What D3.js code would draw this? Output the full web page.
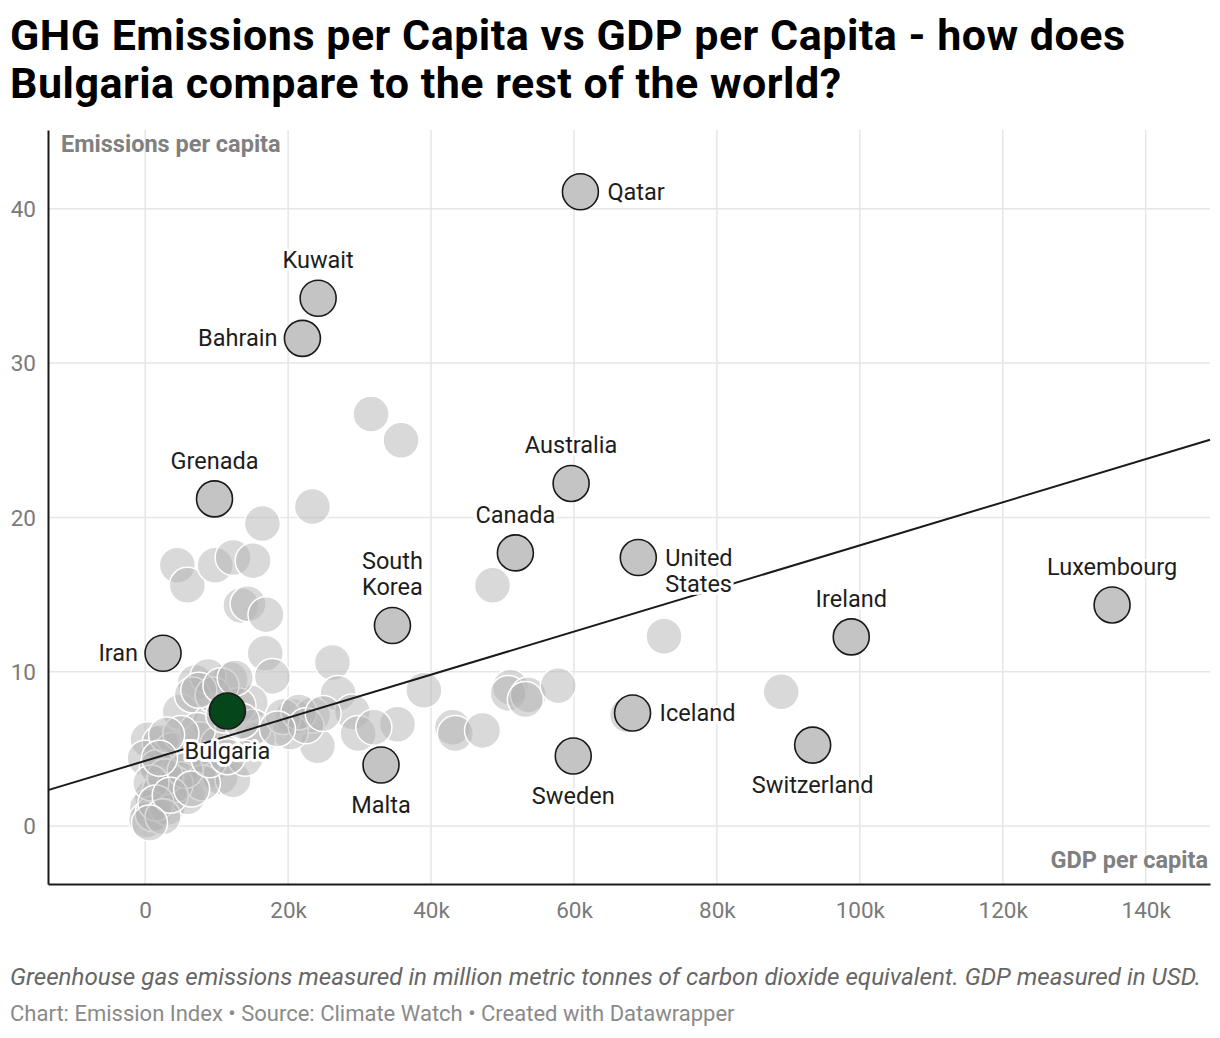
<!DOCTYPE html>
<html>
<head>
<meta charset="utf-8">
<script src="https://cdn.jsdelivr.net/npm/d3@7"></script>
<style>
  body { margin: 0; background: #fff; font-family: Roboto, sans-serif; }
  svg text { font-family: Roboto, sans-serif; }
</style>
</head>
<body>
<svg id="canvas" width="1220" height="1038"></svg>
<script>
// GDP per capita (USD) and emissions per capita
const labeledNames = ['Qatar', 'Kuwait', 'Bahrain', 'Grenada', 'Australia', 'Canada', 'United States',
  'South Korea', 'Iran', 'Bulgaria', 'Malta', 'Sweden', 'Iceland', 'Switzerland', 'Ireland', 'Luxembourg']
const labeledGdp = [60900, 24200, 22000, 9700, 59600, 51800, 69000,
  34600, 2500, 11500, 33000, 59900, 68200, 93400, 98800, 135300]
const labeledEm = [41.1, 34.2, 31.6, 21.2, 22.2, 17.7, 17.4,
  13.0, 11.2, 7.46, 3.96, 4.54, 7.33, 5.25, 12.26, 14.33]

// the other countries, [gdp in thousands, emissions]
const otherPoints = [
  [16.4,19.6],[23.4,20.7],[4.5,16.9],[5.9,15.6],[9.8,16.9],[12.3,17.4],[15.1,17.2],[13.4,14.3],
  [14.4,14.4],[16.9,13.7],[16.8,11.2],[17.8,9.7],[26.2,10.6],[27.0,8.6],[29.0,7.4],[29.8,6.0],
  [24.1,5.2],[20.7,7.1],[23.4,7.2],[20.3,6.1],[35.3,6.6],[39.0,8.8],[43.0,6.4],[43.4,6.0],
  [47.2,6.2],[51.1,9.0],[50.8,8.6],[53.6,8.5],[53.2,8.2],[57.8,9.1],[67.5,7.2],[72.6,12.3],
  [89.0,8.7],[48.6,15.6],[31.6,26.7],[35.8,25.0],[14.7,8.0],[15.7,5.6],[7.0,9.3],[11.9,9.5],
  [8.8,9.7],[4.9,7.4],[6.6,8.5],[13.0,7.8],[9.1,6.7],[15.1,6.4],[19.3,7.1],[0.4,5.6],
  [2.1,5.4],[3.8,4.9],[0.0,4.4],[1.7,3.8],[6.6,4.5],[8.7,3.6],[10.5,3.2],[12.3,3.0],
  [4.9,3.0],[1.0,1.9],[2.1,2.3],[0.3,1.2],[0.2,0.4],[1.1,0.8],[3.1,1.2],[5.9,1.9],
  [8.0,2.8],[4.2,2.7],[2.8,3.2],[5.6,3.6],[7.7,5.6],[10.2,5.3],[14.0,4.4],[7.3,6.2],
  [5.0,6.0],[3.0,5.9],[9.5,8.5],[7.5,8.8],[10.6,9.1],[12.6,9.6],[11.0,7.2],[13.5,6.8],
  [21.5,7.4],[22.5,6.5],[18.5,6.3],[0.8,2.8],[1.5,1.5],[2.5,0.6],[3.5,2.0],[6.5,2.4],
  [9.0,4.3],[11.5,4.5],[24.9,7.3],[32.0,6.4],[0.6,0.2],[2.0,4.4]
]

// trend line end points
const trendGdp = [-13600, 149000]
const trendEm = [2.33, 25.03]

const xTicks = [0, 20000, 40000, 60000, 80000, 100000, 120000, 140000]
const yTicks = [0, 10, 20, 30, 40]

// where each label goes relative to its dot
const labelSide = {
  'Qatar': 'right', 'Kuwait': 'above', 'Bahrain': 'left', 'Grenada': 'above', 'Australia': 'above',
  'Canada': 'above', 'United States': 'right', 'South Korea': 'above', 'Iran': 'left',
  'Bulgaria': 'below', 'Malta': 'below', 'Sweden': 'below', 'Iceland': 'right',
  'Switzerland': 'below', 'Ireland': 'above', 'Luxembourg': 'above'
}
const twoLine = { 'United States': ['United', 'States'], 'South Korea': ['South', 'Korea'] }

const svg = d3.select('#canvas')
const x = d3.scaleLinear().domain([-13600, 149000]).range([48, 1210])
const y = d3.scaleLinear().domain([-3.75, 45.1]).range([884, 130])
const r = 18

// title
const title = svg.append('text').attr('x', 10).attr('font-weight', 700)
  .attr('font-size', 43).attr('letter-spacing', 0.5).attr('fill', '#000')
title.append('tspan').attr('x', 10).attr('y', 50)
  .text('GHG Emissions per Capita vs GDP per Capita - how does')
title.append('tspan').attr('x', 10).attr('y', 98)
  .text('Bulgaria compare to the rest of the world?')

// grid
svg.append('g').selectAll('line').data(xTicks).enter().append('line')
  .attr('x1', d => x(d)).attr('x2', d => x(d))
  .attr('y1', 130).attr('y2', 884)
  .attr('stroke', '#e6e6e6').attr('stroke-width', 1.5)
svg.append('g').selectAll('line').data(yTicks).enter().append('line')
  .attr('x1', 48).attr('x2', 1210)
  .attr('y1', d => y(d)).attr('y2', d => y(d))
  .attr('stroke', '#e6e6e6').attr('stroke-width', 1.5)

// axes
const xAxis = svg.append('g').attr('transform', 'translate(0,884)')
  .call(d3.axisBottom(x).tickValues(xTicks).tickSize(0).tickPadding(18)
    .tickFormat(d => d === 0 ? '0' : (d / 1000) + 'k'))
const yAxis = svg.append('g').attr('transform', 'translate(48,0)')
  .call(d3.axisLeft(y).tickValues(yTicks).tickSize(0).tickPadding(12))
;[xAxis, yAxis].forEach(g => {
  g.select('.domain').attr('stroke', '#1a1a1a').attr('stroke-width', 2)
  g.selectAll('text').attr('font-size', 22.5).attr('fill', '#7a7a7a')
    .attr('font-family', 'Roboto, sans-serif')
})
yAxis.selectAll('text').attr('dy', '0.35em')

svg.append('text').attr('x', 61).attr('y', 152).attr('font-size', 23.5)
  .attr('font-weight', 700).attr('fill', '#808080').text('Emissions per capita')
svg.append('text').attr('x', 1208).attr('y', 868).attr('font-size', 23.5)
  .attr('text-anchor', 'end').attr('font-weight', 700).attr('fill', '#808080')
  .text('GDP per capita')

// other countries
svg.append('g').selectAll('circle').data(otherPoints).enter().append('circle')
  .attr('cx', d => x(d[0] * 1000)).attr('cy', d => y(d[1])).attr('r', r)
  .attr('fill', '#b4b4b4').attr('fill-opacity', 0.5)
  .attr('stroke', '#fff').attr('stroke-width', 1.5)

// trend line
svg.append('path')
  .datum(trendGdp.map((g, i) => [g, trendEm[i]]))
  .attr('d', d3.line().x(d => x(d[0])).y(d => y(d[1])))
  .attr('stroke', '#1a1a1a').attr('stroke-width', 2).attr('fill', 'none')

// highlighted countries
const labeled = labeledNames.map((name, i) => ({ name, gdp: labeledGdp[i], em: labeledEm[i] }))
svg.append('g').selectAll('circle').data(labeled).enter().append('circle')
  .attr('cx', d => x(d.gdp)).attr('cy', d => y(d.em)).attr('r', r)
  .attr('fill', d => d.name === 'Bulgaria' ? '#06461b' : '#c4c4c4')
  .attr('stroke', '#1a1a1a').attr('stroke-width', 1.6)

const labels = svg.append('g')
labeled.forEach(d => {
  const cx = x(d.gdp), cy = y(d.em)
  const side = labelSide[d.name]
  const lines = twoLine[d.name] || [d.name]
  const t = labels.append('text').attr('font-size', 23.5).attr('fill', '#1d1d1d')
    .attr('stroke', '#fff').attr('stroke-width', 6).attr('stroke-linejoin', 'round')
    .attr('paint-order', 'stroke')
  let tx = cx, ty = cy, anchor = 'middle'
  if (side === 'right') { tx = cx + 27; ty = cy + 8; anchor = 'start' }
  if (side === 'left') { tx = cx - 25; ty = cy + 8; anchor = 'end' }
  if (side === 'above') { ty = cy - 30 - (lines.length - 1) * 26 }
  if (side === 'below') { ty = cy + 48 }
  t.attr('text-anchor', anchor)
  lines.forEach((l, i) => t.append('tspan').attr('x', tx).attr('y', ty + i * 26).text(l))
})

// notes
svg.append('text').attr('x', 10).attr('y', 985).attr('font-size', 24.2)
  .attr('font-style', 'italic').attr('fill', '#666')
  .text('Greenhouse gas emissions measured in million metric tonnes of carbon dioxide equivalent. GDP measured in USD.')
svg.append('text').attr('x', 10).attr('y', 1021).attr('font-size', 22)
  .attr('fill', '#8a8a8a')
  .text('Chart: Emission Index \u2022 Source: Climate Watch \u2022 Created with Datawrapper')
</script>
</body>
</html>
